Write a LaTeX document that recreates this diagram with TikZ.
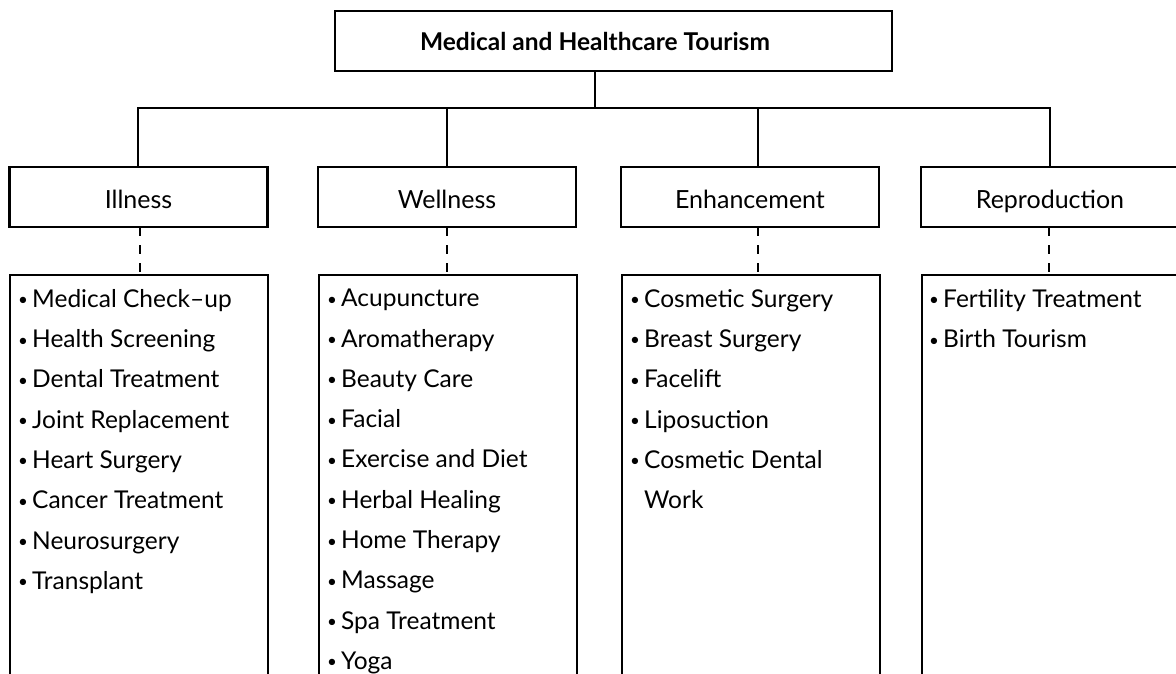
\documentclass[tikz,border=0pt]{standalone}
\usepackage{fontspec}
\setmainfont{Lato}
\newcommand{\mybul}{\makebox[14pt][l]{\fontsize{17}{17}\selectfont\raisebox{1.5pt}{•}}}
\begin{document}
\begin{tikzpicture}[x=1pt,y=-1pt,
  boxline/.style={draw=black, line width=2.2pt},
  catbox/.style={boxline, rectangle, minimum width=258pt, minimum height=60pt, inner sep=0pt, text height=27pt, text depth=5pt, font=\fontsize{25}{30}\selectfont},
  listbox/.style={boxline, rectangle, anchor=north west, minimum width=258pt, minimum height=420pt, inner sep=0pt},
  listtext/.style={anchor=north west, inner sep=0pt, align=left, font=\fontsize{24.5}{40.3}\selectfont},
  conn/.style={line width=2.2pt, black},
  dashconn/.style={line width=2.2pt, black, dash pattern=on 9pt off 9pt}
]
\useasboundingbox (0,0) rectangle (1176,673);
% title
\node[boxline, rectangle, minimum width=557pt, minimum height=60pt, inner sep=0pt] (title) at (613.5,41) {};
\node[font=\fontsize{24.5}{30}\selectfont\bfseries, inner sep=0pt, anchor=base] (titletext) at (595,50) {Medical and Healthcare Tourism};
% categories
\node[catbox] (ill) at (138.5,197) {Illness};
\node[catbox] (well) at (447,197) {Wellness};
\node[catbox] (enh) at (750,197) {Enhancement};
\node[catbox] (rep) at (1050,197) {Reproduction};
% bus
\coordinate (busL) at (138,108);
\coordinate (busR) at (1050,108);
\coordinate (busM) at (595,108);
\draw[conn] (titletext |- title.south) -- (busM);
\draw[conn, line cap=rect] (busL) -- (busR);
\draw[conn] (busL) -- (busL |- ill.north);
\coordinate (bW) at (447,108);
\coordinate (bE) at (758,108);
\draw[conn] (bW) -- (bW |- well.north);
\draw[conn] (bE) -- (bE |- enh.north);
\draw[conn] (busR) -- (busR |- rep.north);
% list boxes
\node[listbox] (illL) at (9,274) {};
\node[listbox] (wellL) at (318,274) {};
\node[listbox] (enhL) at (621,274) {};
\node[listbox, minimum width=270pt] (repL) at (921,274) {};
% dashed connectors
\coordinate (dI) at (140,227);
\coordinate (dW) at (447,227);
\coordinate (dE) at (758,227);
\coordinate (dR) at (1049,227);
\draw[dashconn] (dI) -- (dI |- illL.north);
\draw[dashconn] (dW) -- (dW |- wellL.north);
\draw[dashconn] (dE) -- (dE |- enhL.north);
\draw[dashconn] (dR) -- (dR |- repL.north);
% lists
\node[listtext] (illT) at (18,289) {\mybul Medical Check–up\\\mybul Health Screening\\\mybul Dental Treatment\\\mybul Joint Replacement\\\mybul Heart Surgery\\\mybul Cancer Treatment\\\mybul Neurosurgery\\\mybul Transplant};
\node[listtext] (wellT) at (327,289) {\mybul Acupuncture\\\mybul Aromatherapy\\\mybul Beauty Care\\\mybul Facial\\\mybul Exercise and Diet\\\mybul Herbal Healing\\\mybul Home Therapy\\\mybul Massage\\\mybul Spa Treatment\\\mybul Yoga};
\node[listtext] (enhT) at (630,289) {\mybul Cosmetic Surgery\\\mybul Breast Surgery\\\mybul Facelift\\\mybul Liposuction\\\mybul Cosmetic Dental\\\hspace*{14pt}Work};
\node[listtext] (repT) at (929,289) {\mybul Fertility Treatment\\\mybul Birth Tourism};
\end{tikzpicture}
\end{document}
